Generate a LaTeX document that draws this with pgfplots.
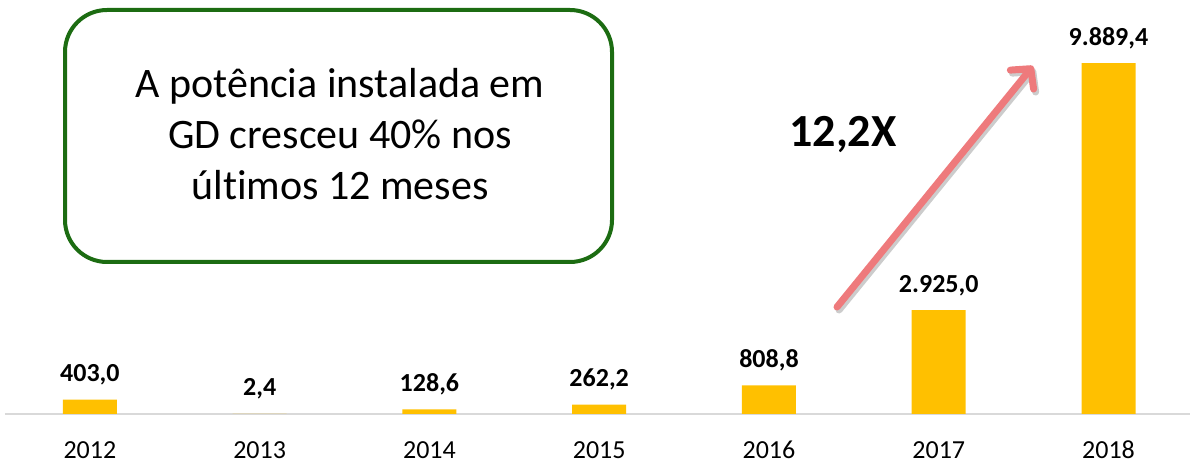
\documentclass[border=0pt]{standalone}
\usepackage{fontspec}
\setmainfont{Carlito}[Ligatures={NoCommon}]
\usepackage{pgfplots}
\pgfplotsset{compat=1.18}
\usetikzlibrary{arrows.meta}
\definecolor{barY}{RGB}{255,192,0}
\definecolor{boxG}{RGB}{28,108,18}
\definecolor{arr}{RGB}{238,122,124}
\definecolor{axg}{RGB}{217,217,217}
\begin{document}
\begin{tikzpicture}[x=1pt,y=1pt]
\useasboundingbox (0,0) rectangle (1190,465);
\begin{axis}[
  at={(5pt,51pt)}, anchor=south west,
  scale only axis, width=1185pt, height=373pt,
  xmin=-0.5, xmax=6.48, ymin=0, ymax=10510,
  axis x line=bottom, axis y line=none,
  axis line style={draw=axg, line width=2pt, -},
  ytick=\empty, xtick={0,1,2,3,4,5,6},
  xticklabels={2012,2013,2014,2015,2016,2017,2018},
  major tick length=0pt,
  xticklabel style={anchor=base, yshift=-45pt, font=\fontsize{26}{30}\selectfont},
  /pgf/number format/assume math mode=true,
  ybar, bar width=54pt,
  nodes near coords, point meta=explicit symbolic,
  every node near coord/.append style={anchor=base, yshift=18pt, font=\bfseries\fontsize{26}{30}\selectfont, text=black},
  clip=false,
]
\addplot[fill=barY, draw=none] table[meta=label] {
x y label
0 403.0 403,0
1 2.4 2,4
2 128.6 128,6
3 262.2 262,2
4 808.8 808,8
5 2925.0 2.925,0
6 9889.4 9.889,4
};
\end{axis}
% text box
\draw[boxG, line width=4pt, rounded corners=42pt] (65,203) rectangle (612,455);
\node[align=center, font=\fontsize{42}{51}\selectfont, inner sep=0pt] at (340,331)
  {A potência instalada em\\GD cresceu 40\% nos\\últimos 12 meses};
% arrow
\draw[black!20, line width=7pt, line cap=round, -{Straight Barb[length=14pt, width=30pt, round]}] (839,155) -- (1035,396);
\draw[arr, line width=7pt, line cap=round, -{Straight Barb[length=14pt, width=30pt, round]}] (837,158) -- (1033,399);
\node[font=\bfseries\fontsize{46}{50}\selectfont] at (843,330) {12,2X};
\end{tikzpicture}
\end{document}
